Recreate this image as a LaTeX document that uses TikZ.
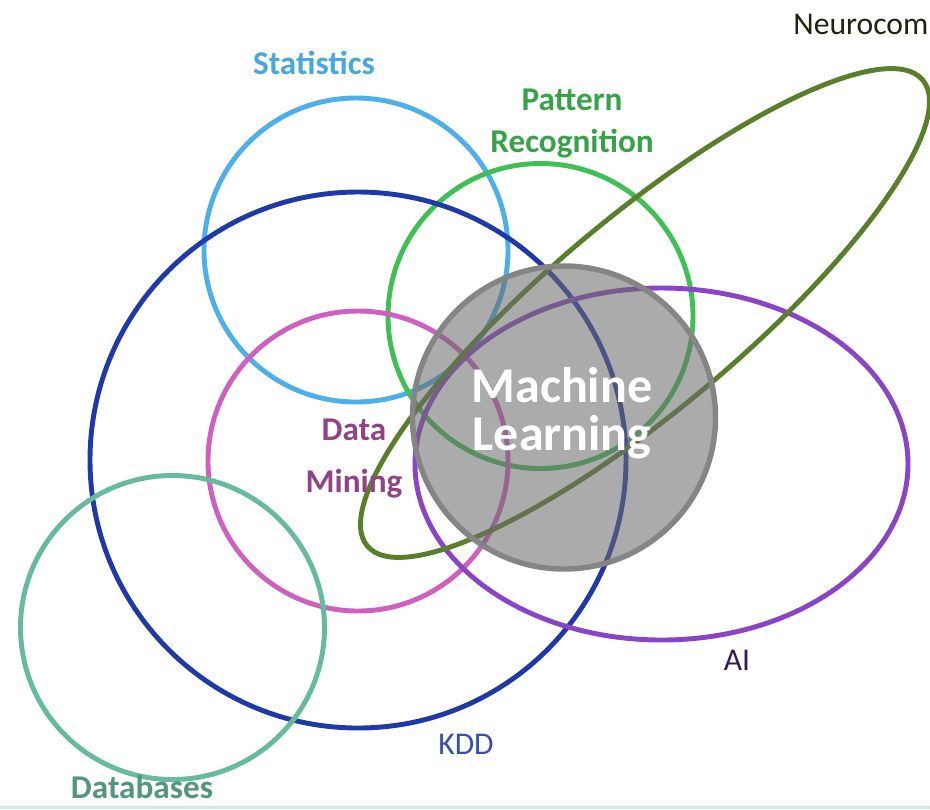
\documentclass[tikz,border=0pt]{standalone}
\usepackage{fontspec}
\setmainfont{Carlito}
\usepackage{tikz}
\usetikzlibrary{
    shapes.geometric,
    positioning
}
\definecolor{statblue}{HTML}{4DB0EC}
\definecolor{patgreen}{HTML}{3EC052}
\definecolor{kddblue}{HTML}{1F3AA8}
\definecolor{dmpink}{HTML}{D060C0}
\definecolor{dbteal}{HTML}{66BB9C}
\definecolor{aipurple}{HTML}{8A44C8}
\definecolor{neuroolive}{HTML}{5A7F2A}
\tikzset{
    ring/.style={draw, circle, inner sep=0pt, line width=2.8pt, minimum size=#1},
    oval/.style={draw, ellipse, inner sep=0pt, line width=2.8pt},
    boldlbl/.style={font=\bfseries\fontsize{18.9}{23.9}\selectfont, align=center},
    thinlbl/.style={font=\fontsize{18}{20}\selectfont}
}

\begin{document}
\begin{tikzpicture}
    \useasboundingbox (0, 0) rectangle (18.6, -16.18);

    \node[ring=6.08cm, statblue] (stats) at (7.12, -5.0) {};
    \node[ring=6.1cm, patgreen] (pattern) at (10.81, -6.32) {};
    \node[ring=10.72cm, kddblue] (kdd) at (7.16, -9.2) {};
    \node[ring=6.0cm, dmpink] (mining) at (7.16, -9.22) {};
    \node[ring=6.08cm, dbteal] (db) at (3.45, -12.55) {};
    \node[oval, aipurple, minimum width=9.86cm, minimum height=7.04cm] (ai) at (13.23, -9.28) {};
    \node[oval, neuroolive, minimum width=14.5cm, minimum height=3.84cm, rotate=40] (neuro) at (12.9, -6.26) {};
    \node[ring=6.06cm, draw=black!48, line width=3.1pt, fill=black!58, fill opacity=0.57] (ml) at (11.28, -8.35) {};

    \node[boldlbl, statblue!95!black] (statslbl) at (6.28, -1.26) {Statistics};
    \node[boldlbl, patgreen!85!black] (patternlbl) at (11.44, -2.48) {Pattern\\Recognition};
    \node[boldlbl, white, font=\bfseries\fontsize{28.5}{27}\selectfont] (mllbl) at (11.24, -8.26) {Machine\\Learning};
    \node[boldlbl, dmpink!70!black, font=\bfseries\fontsize{18.9}{29.6}\selectfont] (mininglbl) at (7.08, -9.18) {Data\\Mining};
    \node[boldlbl, dbteal!80!black, inner sep=0pt] (dblbl) at (2.84, -15.74) {Databases};
    \node[thinlbl, kddblue!90!white] (kddlbl) at (9.32, -14.88) {KDD};
    \node[thinlbl, aipurple!40!black] (ailbl) at (14.74, -13.2) {AI};
    \node[thinlbl, neuroolive!30!black, anchor=west, inner sep=0pt] (neurolbl) at (15.86, -0.48) {Neurocom};

    \draw[line width=1.6pt, dbteal!30!white] (0, -16.15) -- (18.6, -16.15);
\end{tikzpicture}
\end{document}
